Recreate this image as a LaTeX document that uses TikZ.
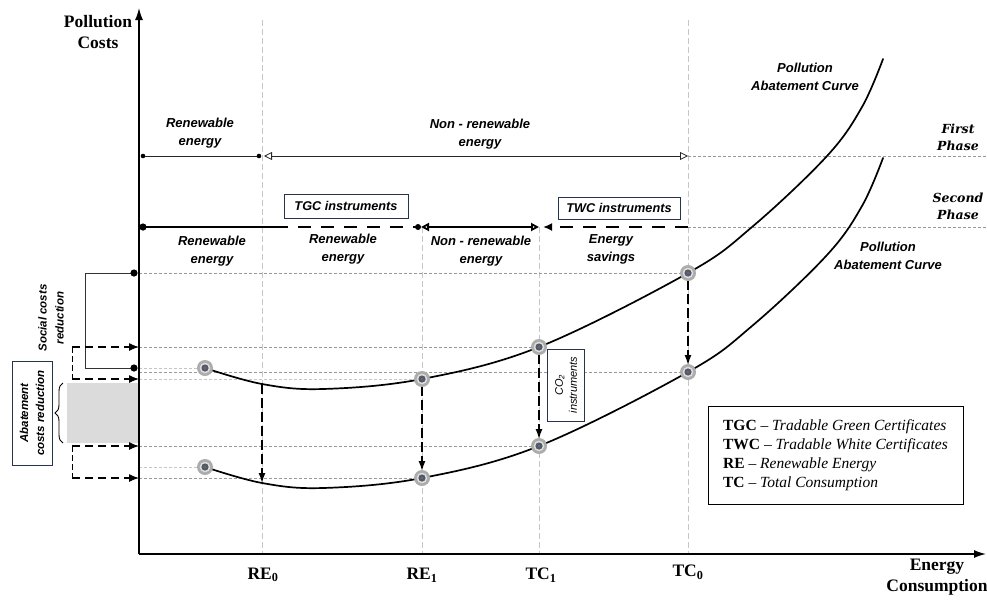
\documentclass[tikz,border=0pt]{standalone}
\usepackage{fontspec}
\setmainfont{Liberation Serif}
\setsansfont{Liberation Sans}
\newfontfamily\phasefont{DejaVu Serif}
\usepackage{xcolor}
\usetikzlibrary{arrows.meta,decorations.pathreplacing,positioning}
\definecolor{boxblue}{RGB}{38,52,78}
\definecolor{ptblue}{RGB}{70,110,190}

\tikzset{
  OpenTri/.tip={Triangle[open,length=8pt,width=8pt]},
  axis/.style={line width=1.4pt, -{Latex[length=12pt,width=8pt]}},
  vguide/.style={gray!45, line width=0.8pt, dash pattern=on 6pt off 3pt},
  hguide/.style={gray!80, line width=0.7pt, dash pattern=on 3pt off 2pt},
  lguide/.style={gray!45, line width=0.7pt, dash pattern=on 3pt off 2pt},
  curve/.style={line width=1.7pt, line cap=round},
  phaseline/.style={line width=0.8pt, black!85},
  stageline/.style={line width=1.8pt},
  stagedash/.style={line width=1.8pt, dash pattern=on 13pt off 10pt},
  dropline/.style={line width=1.5pt, dash pattern=on 10pt off 4pt, -{Latex[length=10pt,width=7pt]}},
  feedarrow/.style={line width=1.2pt, dash pattern=on 8pt off 5pt, -{Latex[length=10pt,width=8pt]}},
  lbl/.style={font=\sffamily\bfseries\itshape\fontsize{13}{18}\selectfont, align=center, inner sep=0pt},
  phase/.style={font=\phasefont\bfseries\itshape\fontsize{12.5}{17}\selectfont, align=center, inner sep=0pt},
  axlbl/.style={font=\bfseries\fontsize{17.5}{21}\selectfont, align=center, inner sep=0pt},
  instbox/.style={draw=boxblue, line width=0.9pt, fill=white, align=center,
    font=\sffamily\bfseries\itshape\fontsize{12.7}{15}\selectfont, inner sep=0pt},
}

\begin{document}
\begin{tikzpicture}[x=1pt, y=-1pt]
  \useasboundingbox (0,0) rectangle (987,600);

  % ---- Axes and guides ----
  \coordinate (O) at (139,554);
  \coordinate (ytop) at (139,8);
  \coordinate (xend) at (986,554);
  \coordinate (lx) at (72,0);

  % points on the two abatement curves
  \coordinate (Uo)  at (205,368); \coordinate (Ur0) at (262,384);
  \coordinate (Ur1) at (422,379); \coordinate (Ut1) at (539,347);
  \coordinate (Ut0) at (688,273);
  \coordinate (Lo)  at (205,467); \coordinate (Lr0) at (262,483);
  \coordinate (Lr1) at (422,478); \coordinate (Lt1) at (539,446);
  \coordinate (Lt0) at (688,372);

  % vertical guides
  \foreach \x/\y in {262/20, 422/227, 539/227, 688/20} {
    \draw[vguide] (\x,\y) -- (\x,554);
  }
  % horizontal guides to the y-axis
  \foreach \p in {Ut0, Lt0, Lt1, Lr1, Ut1} {
    \draw[hguide] (\p -| O) -- (\p);
  }
  \foreach \p in {Uo, Ur1, Lo} {
    \draw[lguide] (\p -| O) -- (\p);
  }

  % shaded abatement band
  \fill[gray!28] (67,383) rectangle (139,443);

  \draw[axis] (O) -- (ytop);
  \draw[axis] (O) -- (xend);
  \node[axlbl] (ylab) at (98,32) {Pollution\\Costs};
  \node[axlbl] (xlab) at (937,577) {Energy\\Consumption};
  \node[axlbl] (re0) at (263,575) {RE\textsubscript{0}};
  \node[axlbl] (re1) at (422,575) {RE\textsubscript{1}};
  \node[axlbl] (tc1) at (541,575) {TC\textsubscript{1}};
  \node[axlbl] (tc0) at (688,572) {TC\textsubscript{0}};

  % ---- First phase ----
  \coordinate (fp0) at (143,156); \coordinate (fp1) at (259,156);
  \coordinate (fp2) at (264,156); \coordinate (fp3) at (688,156);
  \coordinate (fpE) at (987,156);
  \draw[phaseline] (fp0) -- (fp1);
  \fill (fp0) circle (2.3pt); \fill (fp1) circle (2.3pt);
  \draw[phaseline, OpenTri-OpenTri] (fp2) -- (fp3);
  \draw[hguide] (fp3) -- (fpE);
  \node[lbl] (fpren) at (200,133) {Renewable\\energy};
  \node[lbl] (fpnon) at (480,134) {Non - renewable\\energy};
  \node[phase] (first) at (958,137) {First\\Phase};

  % ---- Second phase ----
  \coordinate (sp0) at (143,227); \coordinate (sp1) at (275,227);
  \coordinate (sp2) at (418,227); \coordinate (sp3) at (421,227);
  \coordinate (sp4) at (539,227); \coordinate (sp6) at (543,227);
  \coordinate (sp5) at (688,227); \coordinate (spE) at (987,227);
  \draw[stageline] (sp0) -- (sp1);
  \draw[stagedash] (sp1) -- (sp2);
  \draw[stageline, OpenTri-OpenTri] (sp3) -- (sp4);
  \draw[stagedash, -{Latex[length=9pt,width=8pt]}] (sp5) -- (sp6);
  \draw[hguide] (sp5) -- (spE);
  \fill (sp0) circle (3.6pt); \fill (sp2) circle (3pt);
  \node[instbox, minimum width=124pt, minimum height=24pt] (tgc) at (346,206) {TGC instruments};
  \node[instbox, minimum width=122pt, minimum height=22pt] (twc) at (619,208) {TWC instruments};
  \node[lbl] (spren) at (212,251) {Renewable\\energy};
  \node[lbl] (spren2) at (343,249) {Renewable\\energy};
  \node[lbl] (spnon) at (481,251) {Non - renewable\\energy};
  \node[lbl] (spsav) at (611,249) {Energy\\savings};
  \node[phase] (second) at (958,206) {Second\\Phase};

  % ---- Abatement curves ----
  \foreach \dy in {0,99} {
    \draw[curve, shift={(0,\dy)}] plot[smooth, tension=0.6] coordinates {
      (205,368) (262,384) (323,389) (422,379) (539,347) (688,273)
      (752,227) (827,156) (862,107) (883,59)};
  }
  \node[lbl] (pacU) at (805,77) {Pollution\\Abatement Curve};
  \node[lbl] (pacL) at (888,256) {Pollution\\Abatement Curve};

  % drops from first to second curve
  \draw[dropline] (Ur0) -- (Lr0);
  \draw[dropline, shorten <=7pt, shorten >=7pt] (Ur1) -- (Lr1);
  \draw[dropline, shorten <=7pt, shorten >=7pt] (Ut1) -- (Lt1);
  \draw[dropline, shorten <=7pt, shorten >=7pt] (Ut0) -- (Lt0);
  \node[instbox, rotate=90, font=\sffamily\itshape\fontsize{11}{14}\selectfont,
        minimum width=72pt, minimum height=37pt] (co2) at (566,385) {CO\textsubscript{2}\\instruments};

  % markers
  \foreach \p in {Uo, Ur1, Ut1, Ut0, Lo, Lr1, Lt1, Lt0} {
    \fill[gray!65] (\p) circle (8pt);
    \fill[gray!25] (\p) circle (5.3pt);
    \fill[gray!70!black] (\p) circle (3.6pt);
    \fill[ptblue] (\p) circle (1.3pt);
  }

  % ---- Cost reductions on the y-axis ----
  \coordinate (scTop) at (134,273); \coordinate (scBot) at (134,368);
  \draw[line width=0.9pt, black!80] (scTop) -- ++(-49,0) |- (scBot);
  \fill (scTop) circle (3.6pt); \fill (scBot) circle (3.6pt);
  \node[lbl, rotate=90, font=\sffamily\bfseries\itshape\fontsize{11.5}{17}\selectfont] (social) at (51,318) {Social costs\\reduction};

  \foreach \p in {Ut1, Ur1, Lt1, Lr1} {
    \draw[feedarrow] (\p -| lx) -- (\p -| O);
  }
  \draw[line width=0.8pt, dash pattern=on 6pt off 3pt] (Ut1 -| lx) -- (Ur1 -| lx);
  \draw[line width=0.8pt, dash pattern=on 6pt off 3pt] (Lt1 -| lx) -- (Lr1 -| lx);
  \draw[decorate, decoration={brace, amplitude=8pt}, line width=0.9pt] (63,443) -- (63,383);
  \node[instbox, rotate=90, font=\sffamily\bfseries\itshape\fontsize{11.5}{16}\selectfont,
        minimum width=104pt, minimum height=40pt] (abate) at (32,413) {Abatement\\costs reduction};

  % ---- Key ----
  \node[draw, line width=0.9pt, minimum width=255pt, minimum height=98pt, align=left,
        font=\fontsize{15.5}{19}\selectfont, inner sep=0pt] (key) at (835.5,455)
    {\textbf{TGC} -- \textit{Tradable Green Certificates}\\
     \textbf{TWC} -- \textit{Tradable White Certificates}\\
     \textbf{RE} -- \textit{Renewable Energy}\\
     \textbf{TC} -- \textit{Total Consumption}};
\end{tikzpicture}
\end{document}
